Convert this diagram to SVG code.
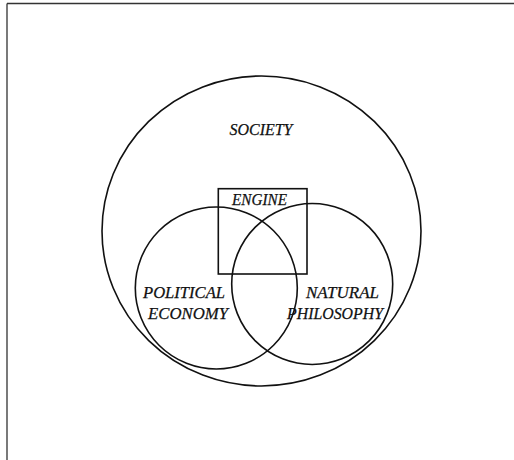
<svg xmlns="http://www.w3.org/2000/svg" width="514" height="460" viewBox="0 0 514 460">
<style>
.ln{fill:none;stroke:#111;stroke-width:1.6}
.fr{fill:none;stroke:#333;stroke-width:1.3}
.lb{font-family:"Liberation Serif",serif;font-style:italic;font-size:17px;fill:#111;stroke:#111;stroke-width:0.25;text-anchor:middle}
</style>
<rect width="514" height="460" fill="#fff"/>
<g id="frame">
<path class="fr" d="M7,3.5 H514 M7,3.5 V460"/>
</g>
<g id="society">
<ellipse class="ln" cx="261.5" cy="231" rx="159.5" ry="155"/>
<text class="lb" x="261" y="134.5" textLength="63" lengthAdjust="spacingAndGlyphs">SOCIETY</text>
</g>
<g id="political-economy">
<circle class="ln" cx="216.3" cy="288" r="81"/>
<text class="lb" x="184" y="298" textLength="82" lengthAdjust="spacingAndGlyphs">POLITICAL</text>
<text class="lb" x="188" y="319" textLength="80" lengthAdjust="spacingAndGlyphs">ECONOMY</text>
</g>
<g id="natural-philosophy">
<circle class="ln" cx="312.2" cy="284" r="80.5"/>
<text class="lb" x="342.5" y="298" textLength="73" lengthAdjust="spacingAndGlyphs">NATURAL</text>
<text class="lb" x="335" y="319" textLength="96" lengthAdjust="spacingAndGlyphs">PHILOSOPHY</text>
</g>
<g id="engine">
<rect class="ln" x="218.3" y="188.7" width="88.7" height="85.3"/>
<text class="lb" x="259.5" y="205" textLength="55" lengthAdjust="spacingAndGlyphs">ENGINE</text>
</g>
<g id="connectors"></g>
</svg>
